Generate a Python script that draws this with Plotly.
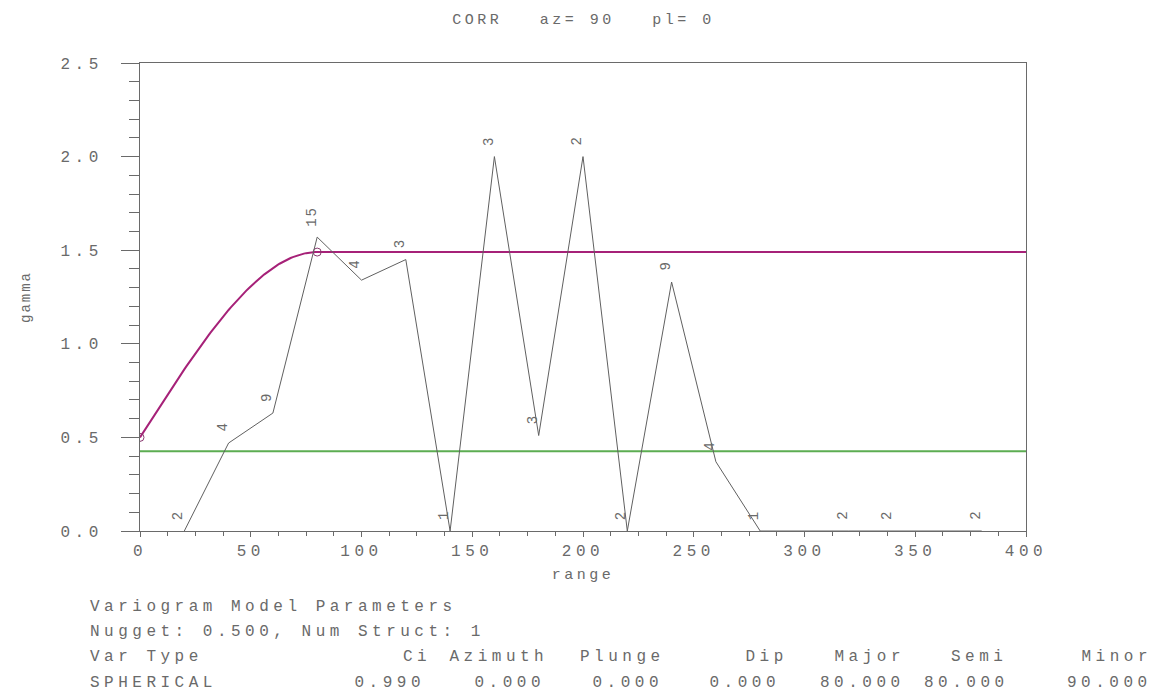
import numpy as np
import plotly.graph_objects as go

# ---- data ----
lags = [20, 40, 60, 80, 100, 120, 140, 160, 180, 200, 220, 240, 260, 280, 320, 340, 380]
gamma_vals = [0.0, 0.47, 0.63, 1.57, 1.34, 1.45, 0.0, 2.0, 0.51, 2.0, 0.0, 1.33, 0.37, 0.0, 0.0, 0.0, 0.0]
pair_counts = [2, 4, 9, 15, 4, 3, 1, 3, 3, 2, 2, 9, 4, 1, 2, 2, 2]

sample_variance = 0.426

nugget = 0.5
num_struct = 1
var_type = "SPHERICAL"
c1 = 0.99
azimuth = 0.0
plunge = 0.0
dip = 0.0
major = 80.0
semi = 80.0
minor = 90.0

title_text = "CORR   az= 90   pl= 0"
x_ticks = [0, 50, 100, 150, 200, 250, 300, 350, 400]
y_ticks = [0.0, 0.5, 1.0, 1.5, 2.0, 2.5]

# spherical model curve from the listed model parameters
h = np.linspace(0, 400, 401)
hr = np.minimum(h / major, 1.0)
model = nugget + c1 * (1.5 * hr - 0.5 * hr ** 3)

FONT = "Liberation Mono"
TXT = "#6a6a6a"
AX = "#6a6a6a"
FS = 16

fig = go.Figure()

fig.add_trace(go.Scatter(x=[0, 400], y=[sample_variance, sample_variance], mode="lines",
                         line=dict(color="#5cad52", width=2), hoverinfo="skip", showlegend=False))
fig.add_trace(go.Scatter(x=h, y=model, mode="lines",
                         line=dict(color="#a62178", width=2), showlegend=False))
fig.add_trace(go.Scatter(x=[0, major], y=[nugget, nugget + c1], mode="markers",
                         marker=dict(symbol="circle-open", size=8, color="#8a3a70", line=dict(width=1)),
                         showlegend=False))
fig.add_trace(go.Scatter(x=lags, y=gamma_vals, mode="lines",
                         line=dict(color="#606060", width=1), showlegend=False))

for xv, yv, n in zip(lags, gamma_vals, pair_counts):
    fig.add_annotation(x=xv, y=yv, xref="x", yref="y", text=str(n), showarrow=False,
                       textangle=-90, xanchor="center", yanchor="bottom",
                       xshift=-6, yshift=10, font=dict(family=FONT, size=14, color=TXT))

W, H = 1151, 696
L, R, T, B = 140, 1026, 63, 531
LS = 4.5  # extra letter spacing (px) applied to 16px stroke-like text


def px(x):
    return (x - L) / (R - L)


def py(y):
    return (B - y) / (B - T)


def note(text, x, y, anchor="left", size=FS):
    if anchor == "right":
        x = x + LS
    fig.add_annotation(x=px(x), y=py(y), xref="paper", yref="paper", text=text,
                       showarrow=False, xanchor=anchor, yanchor="middle", align=anchor,
                       font=dict(family=FONT, size=size, color=TXT))


note(title_text, 583, 20, "center", 15)

note("Variogram Model Parameters", 88, 607)
note(f"Nugget: {nugget:.3f}, Num Struct: {num_struct}", 88, 632)
note("Var Type", 88, 657)
note(var_type, 88, 683)
headers = ["Ci", "Azimuth", "Plunge", "Dip", "Major", "Semi", "Minor"]
values = [c1, azimuth, plunge, dip, major, semi, minor]
head_right = [428, 545, 662, 785, 902, 1004, 1149]
val_right = [422, 542, 660, 777, 902, 1006, 1149]
for hd, hx in zip(headers, head_right):
    note(hd, hx, 657, "right")
for v, vx in zip(values, val_right):
    note(f"{v:.3f}", vx, 683, "right")

fig.update_layout(
    width=W, height=H,
    margin=dict(l=L, r=W - R, t=T, b=H - B),
    paper_bgcolor="white", plot_bgcolor="white",
    font=dict(family=FONT, color=TXT, size=FS),
    xaxis=dict(range=[0, 400], tickvals=x_ticks, ticktext=[str(v) for v in x_ticks],
               showgrid=False, zeroline=False, showline=True, linecolor=AX, linewidth=1,
               mirror=True, ticks="outside", ticklen=5, tickcolor=AX,
               minor=dict(dtick=12.5, tick0=0, ticks="outside", ticklen=4, tickcolor=AX),
               tickfont=dict(family=FONT, size=FS, color=TXT),
               title=dict(text="range", font=dict(family=FONT, size=15, color=TXT), standoff=8)),
    yaxis=dict(range=[0, 2.5], tickvals=y_ticks, ticktext=[f"{v:.1f}" for v in y_ticks],
               showgrid=False, zeroline=False, showline=True, linecolor=AX, linewidth=1,
               mirror=True, ticks="outside", ticklen=18, tickcolor=AX,
               minor=dict(dtick=0.1, tick0=0, ticks="outside", ticklen=10, tickcolor=AX),
               tickfont=dict(family=FONT, size=FS, color=TXT), ticklabelstandoff=15,
               title=dict(text="gamma", font=dict(family=FONT, size=14, color=TXT), standoff=40)),
)

post = """
var gd = document.getElementById('{plot_id}');
gd.querySelectorAll('text').forEach(function(t){
  var fs = parseFloat(t.style.fontSize) || 16;
  var ls = fs >= 16 ? %s : (fs >= 15 ? 3.5 : 2);
  t.style.letterSpacing = ls + 'px';
});
""" % LS

fig.write_html("out.html", post_script=post)
